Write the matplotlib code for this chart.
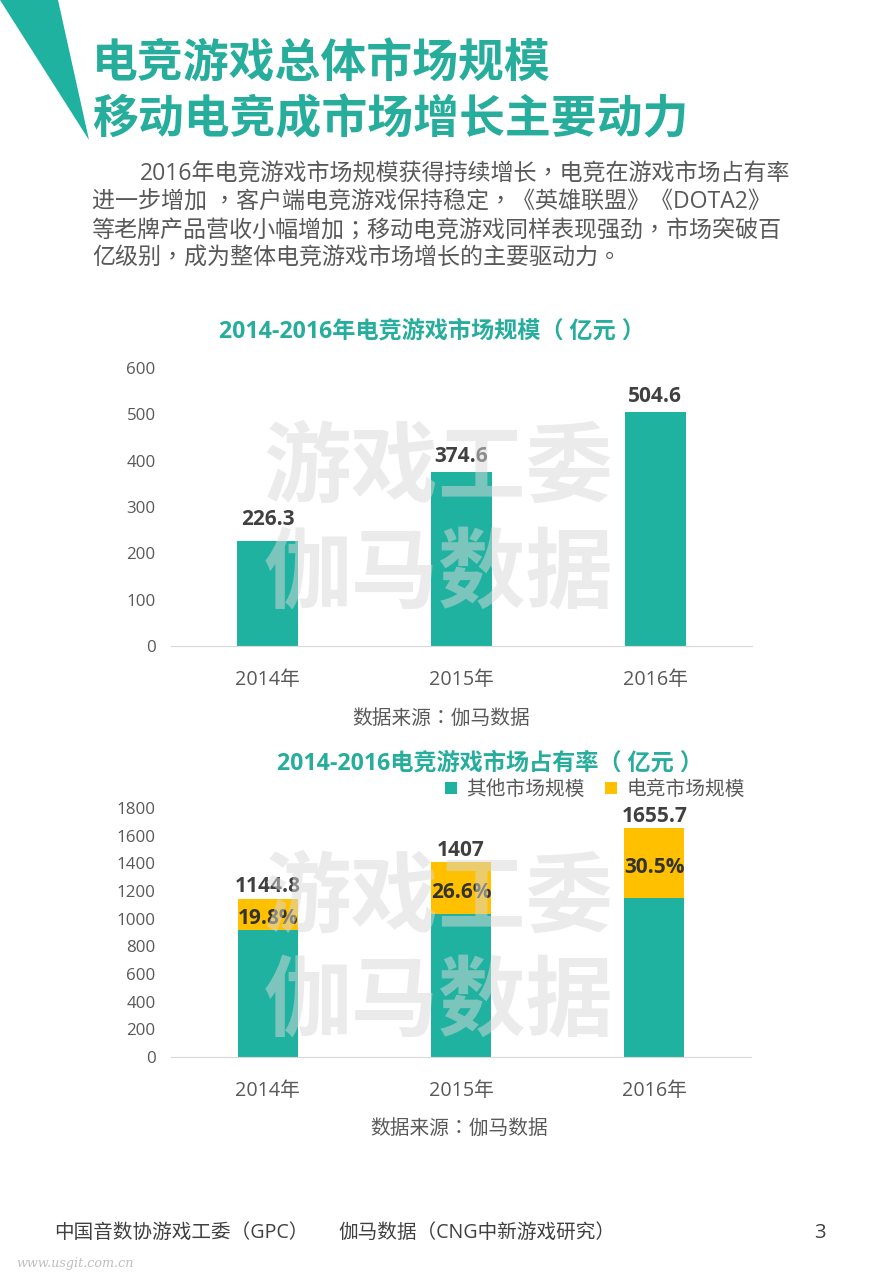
import matplotlib

matplotlib.use("Agg")

import matplotlib.pyplot as plt
from matplotlib.patches import Polygon

plt.rcParams["font.family"] = ["Open Sans", "Noto Sans CJK SC", "DejaVu Sans"]

W, H = 886, 1280
TEAL = "#20B2A0"
GOLD = "#FFC000"
TITLE = "#26AD9C"
DARK = "#404040"
GREY = "#595959"
# the traditional cut centres its commas and colons, as on the page
CENTRED_PUNCT = ["Open Sans", "Noto Sans CJK TC", "DejaVu Sans"]

years = ["2014年", "2015年", "2016年"]
esports = [226.3, 374.6, 504.6]
others = [918.5, 1032.4, 1151.1]
totals = ["1144.8", "1407", "1655.7"]
shares = ["19.8%", "26.6%", "30.5%"]


def add_chart_axes(fig, left, right, top, bottom):
    ax = fig.add_axes([left / W, 1 - bottom / H, (right - left) / W, (bottom - top) / H])
    ax.set_xlim(-0.5, 2.5)
    for side in ["top", "left", "right"]:
        ax.spines[side].set_visible(False)
    ax.spines["bottom"].set_color("#D9D9D9")
    ax.tick_params(length=0)
    ax.tick_params(axis="y", labelsize=12.2, labelcolor=GREY, pad=11)
    ax.tick_params(axis="x", labelsize=14.2, labelcolor=GREY, pad=17)
    return ax


fig = plt.figure(figsize=(W / 100, H / 100), dpi=100, facecolor="white")

# market size
ax1 = add_chart_axes(fig, 171, 752, 368, 646)
bars = ax1.bar(years, esports, width=0.315, color=TEAL)
ax1.set_ylim(0, 600)
ax1.set_yticks(range(0, 601, 100))
size_labels = ax1.bar_label(bars, fmt="%.1f", fontsize=15, fontweight="bold", color=DARK, padding=4)
size_labels[0].xyann = (0, 8)

# market share
ax2 = add_chart_axes(fig, 171, 751, 808, 1057)
low = ax2.bar(years, others, width=0.31, color=TEAL, label="其他市场规模")
top = ax2.bar(years, esports, width=0.31, bottom=others, color=GOLD, label="电竞市场规模")
ax2.set_ylim(0, 1800)
ax2.set_yticks(range(0, 1801, 200))
ax2.bar_label(top, labels=totals, fontsize=15, fontweight="bold", color=DARK, padding=1)
share_labels = ax2.bar_label(top, labels=shares, label_type="center", fontsize=15,
                             fontweight="bold", color="#333333")
for label in share_labels:
    label.xyann = (0, -3)
ax2.legend(
    loc="center right",
    bbox_to_anchor=(745 / W, 1 - 790 / H),
    bbox_transform=fig.transFigure,
    ncol=2,
    frameon=False,
    fontsize=14.2,
    labelcolor=GREY,
    handlelength=0.6,
    handleheight=0.6,
    handletextpad=0.5,
    columnspacing=1.0,
    borderpad=0,
    borderaxespad=0,
)

# page furniture in pixel coordinates
page = fig.add_axes([0, 0, 1, 1], zorder=10)
page.set_xlim(0, W)
page.set_ylim(H, 0)
page.axis("off")
page.patch.set_alpha(0)

page.add_patch(Polygon([(0, 0), (58, 0), (89, 140)], closed=True, color=TEAL, lw=0))

for y, line in [(65, "电竞游戏总体市场规模"), (121, "移动电竞成市场增长主要动力")]:
    page.text(92, y, line, fontsize=33, fontweight="bold", color=TITLE, va="center")

body = [
    (140, 175, "2016年电竞游戏市场规模获得持续增长，电竞在游戏市场占有率"),
    (92, 203, "进一步增加 ，客户端电竞游戏保持稳定，《英雄联盟》《DOTA2》"),
    (92, 231, "等老牌产品营收小幅增加；移动电竞游戏同样表现强劲，市场突破百"),
    (92, 259, "亿级别，成为整体电竞游戏市场增长的主要驱动力。"),
]
for x, y, line in body:
    page.text(x, y, line, fontsize=16.6, color=GREY, va="center", family=CENTRED_PUNCT)

page.text(432, 332, "2014-2016年电竞游戏市场规模（ 亿元 ）", fontsize=16.7, fontweight="bold",
          color=TITLE, ha="center", va="center")
page.text(490, 764, "2014-2016电竞游戏市场占有率（ 亿元 ）", fontsize=16.7, fontweight="bold",
          color=TITLE, ha="center", va="center")
page.text(441, 719, "数据来源：伽马数据", fontsize=14.2, color=GREY, ha="center", va="center",
          family=CENTRED_PUNCT)
page.text(459, 1129, "数据来源：伽马数据", fontsize=14.2, color=GREY, ha="center", va="center",
          family=CENTRED_PUNCT)

# watermark sits on top of the bars and their labels
for y, line in [(472, "游戏工委"), (578, "伽马数据"), (902, "游戏工委"), (1006, "伽马数据")]:
    page.text(439, y, line, fontsize=63, fontweight="bold", color="#D9D9D9", alpha=0.5,
              ha="center", va="center")

page.text(54, 1233, "中国音数协游戏工委（GPC）", fontsize=14.1, color=DARK, va="center")
page.text(338, 1233, "伽马数据（CNG中新游戏研究）", fontsize=14.1, color=DARK, va="center")
page.text(820, 1233, "3", fontsize=14.7, color=DARK, ha="center", va="center")
page.text(16, 1264, "www.usgit.com.cn", fontsize=9.2, family="DejaVu Serif", style="italic",
          color="#BFBFBF", va="center")

fig.savefig("out.png", dpi=100, facecolor="white")
